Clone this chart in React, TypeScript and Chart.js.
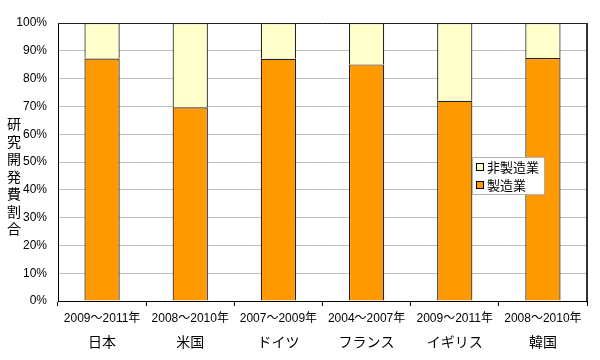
import React, { useEffect, useRef } from "react";
import { Chart, registerables } from "chart.js";

Chart.register(...registerables);

const periods = ["2009～2011年", "2008～2010年", "2007～2009年", "2004～2007年", "2009～2011年", "2008～2010年"];
const countries = ["日本", "米国", "ドイツ", "フランス", "イギリス", "韓国"];
const manufacturing = [87.2, 69.7, 87.1, 85.1, 72.0, 87.4];
const nonManufacturing = [12.8, 30.3, 12.9, 14.9, 28.0, 12.6];
const yTitle = "研究開発費割合";
const seriesNames = ["製造業", "非製造業"];
const seriesColors = ["#FF9900", "#FFFFCC"];

const FONT = "'Liberation Sans', 'Noto Sans CJK JP', sans-serif";

const extras = {
  id: "extras",
  afterDraw(chart: any) {
    const ctx = chart.ctx;
    const a = chart.chartArea;
    ctx.save();
    // frame top and right
    ctx.strokeStyle = "#222";
    ctx.lineWidth = 1;
    ctx.beginPath();
    ctx.moveTo(a.left, Math.round(a.top) + 0.5);
    ctx.lineTo(a.right, Math.round(a.top) + 0.5);
    ctx.stroke();
    ctx.strokeStyle = "#333";
    ctx.lineWidth = 2;
    ctx.beginPath();
    ctx.moveTo(Math.round(a.right), a.top);
    ctx.lineTo(Math.round(a.right), a.bottom);
    ctx.stroke();

    // y title, vertical characters
    ctx.fillStyle = "#000";
    ctx.font = `14px ${FONT}`;
    ctx.textAlign = "center";
    ctx.textBaseline = "middle";
    const chars = Array.from(yTitle);
    const step = 17.5;
    const cy = (a.top + a.bottom) / 2 + 16;
    chars.forEach((c, i) => {
      ctx.fillText(c, 14, cy + (i - (chars.length - 1) / 2) * step);
    });

    // country names under period labels
    const xs = chart.scales.x;
    ctx.font = `14px ${FONT}`;
    countries.forEach((c, i) => {
      ctx.fillText(c, xs.getPixelForValue(i), 343);
    });

    // legend
    const lx = Math.round(a.right - 115);
    const ly = Math.round(a.top + 134);
    const lw = 72;
    const lh = 37;
    ctx.fillStyle = "#fff";
    ctx.fillRect(lx, ly, lw, lh);
    ctx.strokeStyle = "#b0b0b0";
    ctx.lineWidth = 1;
    ctx.strokeRect(lx + 0.5, ly + 0.5, lw, lh);
    const items = [1, 0];
    items.forEach((di, row) => {
      const y = ly + 10 + row * 18;
      ctx.fillStyle = seriesColors[di];
      ctx.fillRect(lx + 5, y - 3, 6, 6);
      ctx.strokeStyle = "#000";
      ctx.strokeRect(lx + 4.5, y - 3.5, 7, 7);
      ctx.fillStyle = "#000";
      ctx.font = `13px ${FONT}`;
      ctx.textAlign = "left";
      ctx.fillText(seriesNames[di], lx + 15, y + 1);
    });
    ctx.restore();
  },
};

export default function App() {
  const ref = useRef<HTMLCanvasElement>(null);
  useEffect(() => {
    document.body.style.margin = "0";
    const chart = new Chart(ref.current as HTMLCanvasElement, {
      type: "bar",
      data: {
        labels: periods,
        datasets: [
          {
            label: seriesNames[0],
            data: manufacturing,
            backgroundColor: seriesColors[0],
            borderColor: "#222",
            borderWidth: 1.2,
            categoryPercentage: 1,
            barPercentage: 0.4,
          },
          {
            label: seriesNames[1],
            data: nonManufacturing,
            backgroundColor: seriesColors[1],
            borderColor: "#222",
            borderWidth: 1.2,
            categoryPercentage: 1,
            barPercentage: 0.4,
          },
        ],
      },
      options: {
        responsive: false,
        animation: false,
        layout: { padding: { top: 23, right: 13, left: 0, bottom: 0 } },
        plugins: { legend: { display: false }, tooltip: { enabled: false } },
        scales: {
          x: {
            stacked: true,
            afterFit: (s: any) => {
              s.height = 59;
            },
            grid: { display: true, drawOnChartArea: false, offset: true, tickLength: 5, color: "#000" },
            border: { color: "#000", width: 1 },
            ticks: { color: "#000", font: { size: 12, family: FONT }, padding: 5, maxRotation: 0 },
          },
          y: {
            stacked: true,
            min: 0,
            max: 100,
            afterFit: (s: any) => {
              s.width = 58;
            },
            grid: { color: "#c0c0c0", drawTicks: false },
            border: { color: "#000", width: 1 },
            ticks: {
              stepSize: 10,
              color: "#000",
              padding: 11,
              font: { size: 12, family: FONT },
              callback: (v: any) => v + "%",
            },
          },
        },
      },
      plugins: [extras],
    });
    return () => chart.destroy();
  }, []);
  return (
    <div style={{ position: "absolute", left: 0, top: 0, width: 600, height: 360 }}>
      <canvas ref={ref} width={600} height={360} />
    </div>
  );
}
